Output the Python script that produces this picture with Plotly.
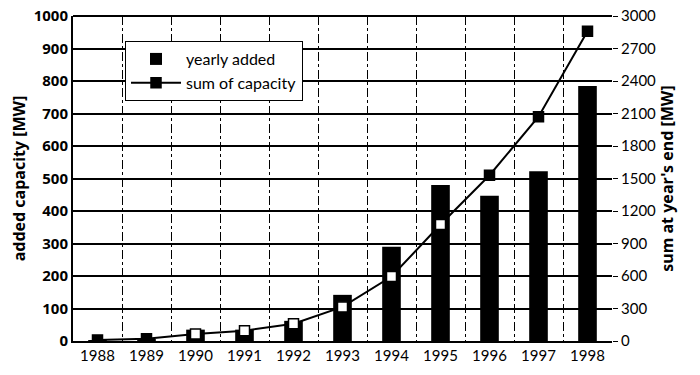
import plotly.graph_objects as go

years = ["1988", "1989", "1990", "1991", "1992", "1993", "1994", "1995", "1996", "1997", "1998"]
yearly_added = [2, 5, 35, 35, 62, 142, 290, 480, 447, 522, 785]
sum_capacity = [10, 20, 65, 95, 160, 315, 595, 1075, 1530, 2070, 2860]
left_ticks = list(range(0, 1001, 100))
right_ticks = list(range(0, 3001, 300))

FONT = "Lato"
BOLD = "Noto Sans"

# markers lying on top of a black bar are printed light (as in the scan)
marker_fill = ["white" if s / 3.0 < a else "black" for s, a in zip(sum_capacity, yearly_added)]

fig = go.Figure()
fig.add_trace(go.Bar(
    x=years, y=yearly_added, name="yearly added",
    marker=dict(color="black", line=dict(width=0)), width=0.38,
    yaxis="y",
))
fig.add_trace(go.Scatter(
    x=years, y=sum_capacity, name="sum of capacity",
    mode="lines+markers",
    line=dict(color="black", width=2),
    marker=dict(symbol="square", size=10, color=marker_fill, line=dict(color="black", width=1.5)),
    yaxis="y2",
))

fig.update_layout(
    width=700, height=375,
    margin=dict(l=73, r=88, t=16, b=34),
    paper_bgcolor="white", plot_bgcolor="white",
    font=dict(family=FONT, color="black", size=14),
    showlegend=True,
    legend=dict(
        x=0.0965, y=0.923, xanchor="left", yanchor="top",
        bgcolor="white", bordercolor="black", borderwidth=1,
        font=dict(family=FONT, size=16, color="black"),
        itemwidth=50, tracegroupgap=0,
    ),
    xaxis=dict(
        type="category", tickson="boundaries", automargin=False,
        showgrid=True, gridcolor="black", gridwidth=1, griddash="dashdot",
        showline=True, linecolor="black", linewidth=2, mirror=False,
        ticks="", tickfont=dict(size=15, family=FONT),
        range=[-0.5, 10.5],
    ),
    yaxis=dict(
        range=[0, 1000], tickvals=left_ticks, automargin=False,
        showgrid=True, gridcolor="black", gridwidth=1.5,
        showline=True, linecolor="black", linewidth=2,
        ticks="", zeroline=False,
        tickfont=dict(size=15, family=BOLD, weight="bold"),
        title=dict(text="added capacity [MW]", font=dict(size=16, family=BOLD, weight="bold"), standoff=4),
    ),
    yaxis2=dict(
        overlaying="y", side="right", automargin=False,
        range=[0, 3000], tickvals=right_ticks,
        showgrid=False, zeroline=False,
        showline=False,
        ticks="outside", ticklen=5, tickcolor="black",
        tickfont=dict(size=15, family=FONT),
        title=dict(text="sum at year's end [MW]", font=dict(size=16, family=BOLD, weight="bold"), standoff=6),
    ),
    shapes=[dict(type="line", xref="paper", yref="paper", x0=0, x1=1, y0=1, y1=1,
                 line=dict(color="black", width=2))],
)

fig.write_html("out.html", config={"displayModeBar": False},
               post_script="document.body.style.margin='0';")
